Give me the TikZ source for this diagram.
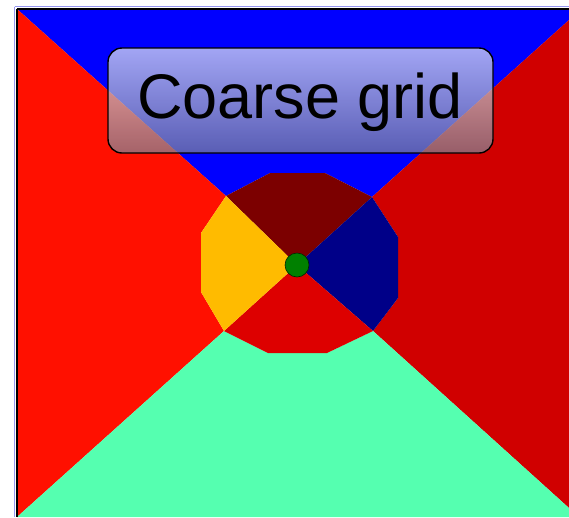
\documentclass[tikz,border=0pt]{standalone}
\usepackage{fontspec}
\setmainfont{Liberation Sans}
\definecolor{cblue}{RGB}{0,0,255}
\definecolor{credL}{RGB}{255,16,0}
\definecolor{credR}{RGB}{208,0,0}
\definecolor{cgreen}{RGB}{85,255,176}
\definecolor{cmaroon}{RGB}{124,0,0}
\definecolor{cyellow}{RGB}{255,187,0}
\definecolor{cnavy}{RGB}{0,0,136}
\definecolor{credB}{RGB}{221,0,0}
\definecolor{cdot}{RGB}{0,128,0}
\definecolor{boxtop}{RGB}{232,236,240}
\definecolor{boxbot}{RGB}{128,134,150}
\definecolor{lav}{RGB}{150,150,240}
\begin{document}
\begin{tikzpicture}[x=1pt,y=-1pt,
  labelbox/.style={draw=black,line width=1.4pt,rounded corners=14pt,
    top color=boxtop,bottom color=boxbot,fill opacity=0.7,draw opacity=1,text opacity=1,
    minimum width=385pt,minimum height=105pt,inner sep=0pt}]
\useasboundingbox (0,0) rectangle (569,517);
\clip (0,0) rectangle (569,517);
\fill[white] (0,0) rectangle (569,517);
% key points
\coordinate (C) at (297,265);
\coordinate (TL) at (17,9);
\coordinate (TR) at (569,9);
\coordinate (RT) at (569,20);
\coordinate (RB) at (569,508);
\coordinate (BR) at (569,517);
\coordinate (BL) at (17,517);
\coordinate (O1) at (226,196);
\coordinate (O2) at (270,173);
\coordinate (O3) at (325,173);
\coordinate (O4) at (372,197);
\coordinate (O5) at (398,237);
\coordinate (O6) at (398,298);
\coordinate (O7) at (373,331);
\coordinate (O8) at (327,353);
\coordinate (O9) at (268,353);
\coordinate (O10) at (224,331);
\coordinate (O11) at (201,292);
\coordinate (O12) at (201,233);
% outer regions
\fill[cblue] (TL) -- (TR) -- (RT) -- (O4) -- (O3) -- (O2) -- (O1) -- cycle;
\fill[credL] (TL) -- (O1) -- (O12) -- (O11) -- (O10) -- (BL) -- cycle;
\fill[credR] (RT) -- (O4) -- (O5) -- (O6) -- (O7) -- (RB) -- cycle;
\fill[cgreen] (BL) -- (O10) -- (O9) -- (O8) -- (O7) -- (RB) -- (BR) -- cycle;
% inner regions
\fill[cmaroon] (O1) -- (O2) -- (O3) -- (O4) -- (C) -- cycle;
\fill[cnavy] (O4) -- (O5) -- (O6) -- (O7) -- (C) -- cycle;
\fill[credB] (O7) -- (O8) -- (O9) -- (O10) -- (C) -- cycle;
\fill[cyellow] (O10) -- (O11) -- (O12) -- (O1) -- (C) -- cycle;
\node[circle,fill=cdot,draw=black!70!cdot,line width=0.6pt,minimum size=24pt,inner sep=0pt] (dot) at (C) {};
% frame
\draw[lav,line width=1pt] (14.5,6.5) -- (569,6.5);
\draw[lav,line width=1pt] (14.5,6.5) -- (14.5,517);
\draw[black,line width=2pt] (16.5,8.5) -- (569,8.5);
\draw[black,line width=2pt] (16.5,8.5) -- (16.5,517);
% label
\node[labelbox] (label) at (300.5,100.5) {};
\node[anchor=base,inner sep=0pt,font=\fontsize{63}{63}\selectfont] (labeltext) at (300,118.5) {Coarse grid};
\end{tikzpicture}
\end{document}
